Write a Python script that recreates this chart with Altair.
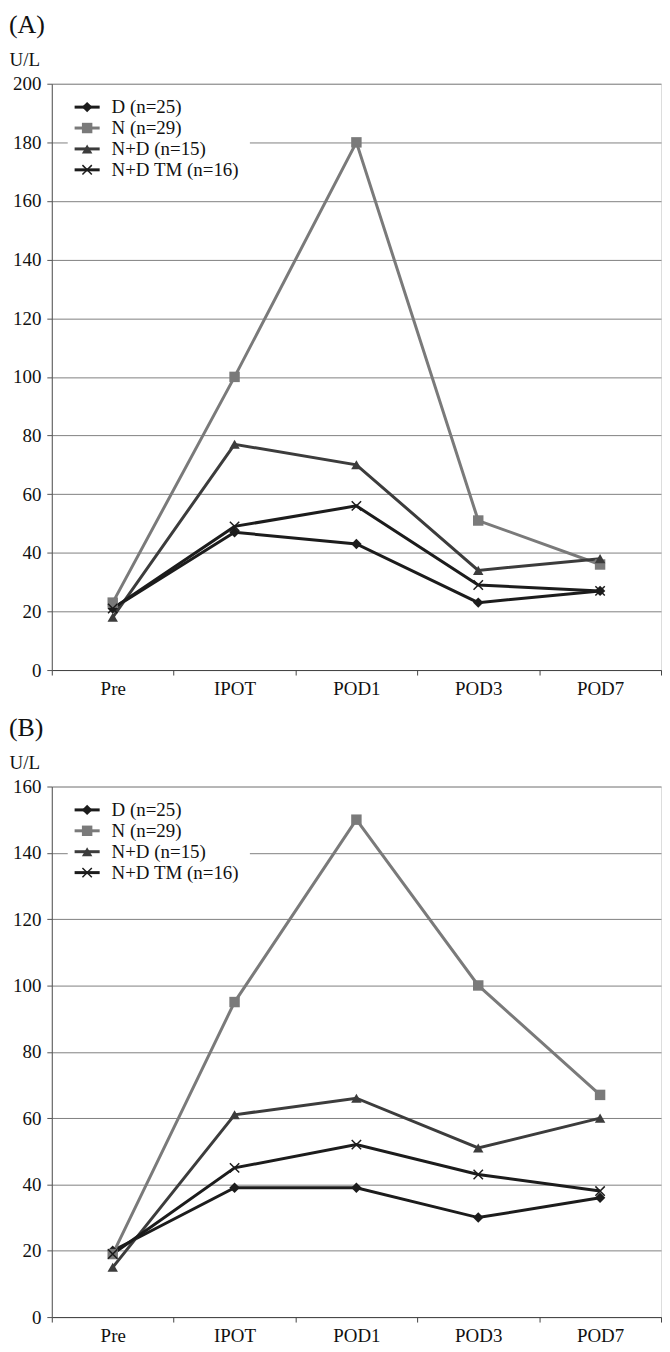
import altair as alt
import pandas as pd

timepoints = ["Pre", "IPOT", "POD1", "POD3", "POD7"]
groups = ["D (n=25)", "N (n=29)", "N+D (n=15)", "N+D TM (n=16)"]

# Panel (A)
a_D = [21, 47, 43, 23, 27]
a_N = [23, 100, 180, 51, 36]
a_ND = [18, 77, 70, 34, 38]
a_TM = [21, 49, 56, 29, 27]

# Panel (B)
b_D = [20, 39, 39, 30, 36]
b_N = [19, 95, 150, 100, 67]
b_ND = [15, 61, 66, 51, 60]
b_TM = [19, 45, 52, 43, 38]

colors = ["#1c1c1c", "#7a7a7a", "#3c3c3c", "#1c1c1c"]
X_PATH = "M-1,-0.8L-0.8,-1L1,0.8L0.8,1Z M0.8,-1L1,-0.8L-0.8,1L-1,0.8Z"
shapes = ["diamond", "square", "triangle-up", X_PATH]

FONT = "Liberation Serif"
FS = 19
PLOT_W = 612
MSIZE = 110


def make_df(series):
    rows = []
    for g, vals in zip(groups, series):
        for t, v in zip(timepoints, vals):
            rows.append({"time": t, "group": g, "value": v})
    return pd.DataFrame(rows)


def panel(series, label, ymax, height):
    df = make_df(series)
    base = alt.Chart(df)
    x = alt.X(
        "time:N",
        sort=timepoints,
        bandPosition=0.5,
        scale=alt.Scale(type="band", paddingInner=0, paddingOuter=0),
        axis=alt.Axis(title=None, tickBand="extent", labelAngle=0, grid=False,
                      domainColor="#444444", tickColor="#444444", tickSize=5,
                      labelPadding=5, labelFont=FONT, labelFontSize=FS,
                      labelColor="#111111"),
    )
    y = alt.Y(
        "value:Q",
        scale=alt.Scale(domain=[0, ymax], nice=False),
        axis=alt.Axis(title="U/L", titleAngle=0, titleX=-43, titleY=-18,
                      titleAlign="left", titleBaseline="alphabetic",
                      titleFont=FONT, titleFontSize=FS, titleFontWeight="normal",
                      titleColor="#111111",
                      values=list(range(0, ymax + 1, 20)), grid=True,
                      gridColor="#808080", gridWidth=1, domainColor="#555555",
                      tickColor="#555555", tickSize=5, labelPadding=6,
                      labelFont=FONT, labelFontSize=FS, labelColor="#111111"),
    )
    line_legend = alt.Legend(
        orient="none", legendX=16, legendY=4, title=None,
        symbolType="M-2.4,0H2.4", symbolSize=MSIZE, symbolStrokeWidth=3,
        labelFont=FONT, labelFontSize=FS, labelColor="#111111",
        labelOffset=15, rowPadding=1, padding=10, fillColor="white",
    )
    pt_legend = alt.Legend(
        orient="none", legendX=26, legendY=14, title=None,
        symbolSize=MSIZE, symbolStrokeWidth=0,
        labelFont=FONT, labelFontSize=FS, labelOpacity=0,
        labelOffset=15, rowPadding=1, padding=0,
    )
    lines = base.mark_line(strokeWidth=3).encode(
        x=x, y=y,
        stroke=alt.Stroke("group:N", scale=alt.Scale(range=colors), legend=line_legend),
    )
    pts = base.mark_point(filled=True, size=MSIZE, opacity=1, strokeWidth=0).encode(
        x=x, y=y,
        fill=alt.Fill("group:N", scale=alt.Scale(domain=groups, range=colors), legend=pt_legend),
        shape=alt.Shape("group:N", scale=alt.Scale(domain=groups, range=shapes), legend=pt_legend),
    )
    return alt.layer(lines, pts).properties(
        width=PLOT_W, height=height,
        title=alt.TitleParams(label, anchor="start", fontSize=26,
                              font=FONT, fontWeight="normal", color="#111111", offset=13),
    )


chart_a = panel([a_D, a_N, a_ND, a_TM], "(A)", 200, 589)
chart_b = panel([b_D, b_N, b_ND, b_TM], "(B)", 160, 533)

chart = (
    alt.vconcat(chart_a, chart_b, spacing=14)
    .resolve_scale(stroke="independent", fill="independent", shape="independent")
    .resolve_legend(stroke="independent", fill="independent", shape="independent")
    .properties(padding=0)
    .configure_view(stroke=None)
    .configure(background="white")
)

chart.save("out.html", embed_options={"renderer": "svg", "actions": False})
